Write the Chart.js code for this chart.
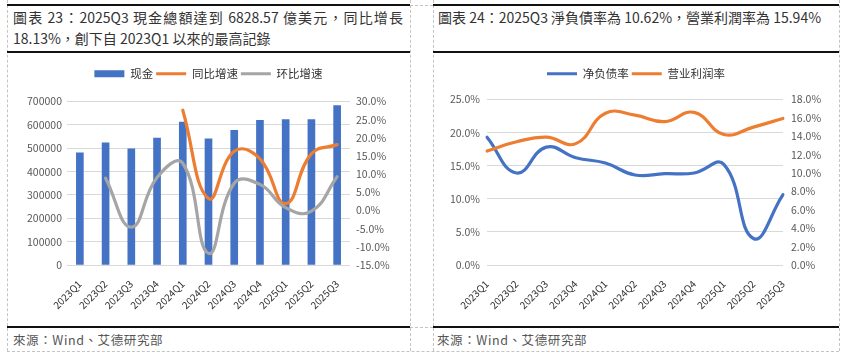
<!DOCTYPE html>
<html><head><meta charset="utf-8">
<script src="https://cdn.jsdelivr.net/npm/chart.js@4.4.1/dist/chart.umd.min.js"></script>
<style>
html,body{margin:0;padding:0;background:#fff;width:846px;height:356px;overflow:hidden;position:relative;}
.vd{position:absolute;width:0;border-left:1px dashed #c4c4c4;}
.hd{position:absolute;height:0;border-top:1px dashed #c4c4c4;}
.hs{position:absolute;height:2px;background:#111;}
.t{position:absolute;font-family:"Noto Sans CJK TC","Noto Sans CJK SC",sans-serif;font-size:14px;color:#333;white-space:nowrap;line-height:16px;}
.j{text-align:justify;text-align-last:justify;}
.src{position:absolute;font-family:"Noto Sans CJK TC",sans-serif;font-size:12.5px;color:#555;white-space:nowrap;line-height:14px;letter-spacing:0.6px;}
canvas{position:absolute;}
</style></head>
<body>
<div class="vd" style="left:7px;top:0;height:351px"></div>
<div class="vd" style="left:410px;top:0;height:351px"></div>
<div class="vd" style="left:433px;top:0;height:351px"></div>
<div class="vd" style="left:839px;top:0;height:351px"></div>
<div class="hd" style="left:7px;top:351px;width:832px"></div>
<div class="hd" style="left:410px;top:5px;width:23px"></div>
<div class="hd" style="left:410px;top:327px;width:23px"></div>
<div class="hs" style="left:7px;top:4px;width:403px"></div>
<div class="hs" style="left:433px;top:4px;width:406px"></div>
<div class="hs" style="left:7px;top:51px;width:403px"></div>
<div class="hs" style="left:433px;top:51px;width:406px"></div>
<div class="hs" style="left:7px;top:326px;width:403px"></div>
<div class="hs" style="left:433px;top:326px;width:406px"></div>

<div class="t j" style="left:13px;top:9px;width:390px">圖表 23：2025Q3 現金總額達到 6828.57 億美元，同比增長</div>
<div class="t" style="left:13px;top:30px">18.13%，創下自 2023Q1 以來的最高記錄</div>
<div class="t j" style="left:438px;top:9px;width:379px">圖表 24：2025Q3 淨負債率為 10.62%，營業利潤率為 15.94%</div>
<div class="src" style="left:13px;top:333px">來源：Wind、艾德研究部</div>
<div class="src" style="left:437px;top:333px">來源：Wind、艾德研究部</div>

<canvas id="c1" width="401" height="273" style="left:8px;top:53px"></canvas>
<canvas id="c2" width="404" height="273" style="left:434px;top:53px"></canvas>

<script>
// ---- data ----
const quarters = ['2023Q1','2023Q2','2023Q3','2023Q4','2024Q1','2024Q2','2024Q3','2024Q4','2025Q1','2025Q2','2025Q3'];
const cash = [480600, 523000, 497600, 543000, 612000, 540000, 577000, 619000, 623000, 623000, 682857];
const yoyGrowth = [null, null, null, null, 27.6, 3.3, 16.3, 14.2, 1.9, 15.6, 18.13];
const qoqGrowth = [null, 8.9, -4.6, 9.1, 13.0, -11.8, 7.5, 7.2, 0.8, -0.2, 9.3];
const netDebtRatio = [19.3, 13.9, 17.8, 16.2, 15.4, 13.6, 13.8, 13.9, 15.2, 4.0, 10.62];
const opMargin = [12.4, 13.4, 13.9, 13.2, 16.5, 16.3, 15.6, 16.6, 14.2, 15.0, 15.94];
const seriesNames1 = ['现金', '同比增速', '环比增速'];
const seriesNames2 = ['净负债率', '营业利润率'];

const FONT = '"Noto Sans CJK SC", "Noto Sans", sans-serif';
const tickFont = {family: FONT, size: 10.5};
const pct = v => v.toFixed(1) + '%';
const plain = v => String(v);

function legendGap(gap){
  return {id:'legendGap', beforeInit(chart){
    const orig = chart.legend.fit;
    chart.legend.fit = function(){ orig.call(this); this.height += gap; };
  }};
}
function legendLabels(chart){
  const items = Chart.defaults.plugins.legend.labels.generateLabels(chart);
  items.forEach(it => {
    const ds = chart.data.datasets[it.datasetIndex];
    const isBar = ds.type === 'bar';
    it.pointStyle = isBar ? 'rect' : 'line';
    it.lineWidth = isBar ? 0 : 3;
    it.strokeStyle = isBar ? ds.backgroundColor : ds.borderColor;
    it.fillStyle = isBar ? ds.backgroundColor : ds.borderColor;
    it.lineCap = 'butt';
  });
  return items;
}
const legendOpts = {
  position:'top',
  labels:{usePointStyle:true, pointStyleWidth:30, boxHeight:7, padding:3,
    font:{family:FONT, size:11.5}, color:'#333',
    sort:(a,b)=>a.datasetIndex-b.datasetIndex, generateLabels: legendLabels}
};
const lineDs = (label, data, color, axis, order) => ({
  type:'line', label, data, borderColor:color, backgroundColor:color, borderWidth:3.2,
  pointRadius:0, tension:0.45, yAxisID:axis, order, borderCapStyle:'round', borderJoinStyle:'round'
});
const xScale = {
  grid:{display:false}, border:{display:false},
  ticks:{maxRotation:45, minRotation:45, font:{family:FONT, size:10}, color:'#333', padding:5, autoSkip:false},
  afterFit(s){ s.height = 61; }
};

new Chart(document.getElementById('c1'), {
  data:{labels:quarters, datasets:[
    {type:'bar', label:seriesNames1[0], data:cash, backgroundColor:'#4472C4', yAxisID:'y', barThickness:7, order:3},
    lineDs(seriesNames1[1], yoyGrowth, '#ED7D31', 'y1', 2),
    lineDs(seriesNames1[2], qoqGrowth, '#A5A5A5', 'y1', 1)
  ]},
  options:{
    responsive:false, animation:false, devicePixelRatio:1,
    layout:{padding:{top:12, left:0, right:0, bottom:0}},
    plugins:{legend:legendOpts, tooltip:{enabled:false}},
    scales:{
      x: xScale,
      y:{position:'left', min:0, max:700000, ticks:{stepSize:100000, padding:5, font:tickFont, color:'#595959', callback:plain},
         grid:{color:'#D9D9D9', drawTicks:false}, border:{display:false}, afterFit(s){ s.width = 59; }},
      y1:{position:'right', min:-15, max:30, ticks:{stepSize:5, padding:6, font:tickFont, color:'#595959', callback:pct},
         grid:{display:false, drawTicks:false}, border:{display:false}, afterFit(s){ s.width = 59; }}
    }
  },
  plugins:[legendGap(12)]
});

new Chart(document.getElementById('c2'), {
  data:{labels:quarters, datasets:[
    lineDs(seriesNames2[0], netDebtRatio, '#4472C4', 'y', 2),
    lineDs(seriesNames2[1], opMargin, '#ED7D31', 'y1', 1)
  ]},
  options:{
    responsive:false, animation:false, devicePixelRatio:1,
    layout:{padding:{top:12, left:0, right:0, bottom:0}},
    plugins:{legend:legendOpts, tooltip:{enabled:false}},
    scales:{
      x: xScale,
      y:{position:'left', min:0, max:25, ticks:{stepSize:5, padding:7, font:tickFont, color:'#595959', callback:pct},
         grid:{color:'#D9D9D9', drawTicks:false}, border:{display:false}, afterFit(s){ s.width = 53; }},
      y1:{position:'right', min:0, max:18, ticks:{stepSize:2, padding:8, font:tickFont, color:'#595959', callback:pct},
         grid:{display:false, drawTicks:false}, border:{display:false}, afterFit(s){ s.width = 55; }}
    }
  },
  plugins:[legendGap(10)]
});
</script>
</body></html>
